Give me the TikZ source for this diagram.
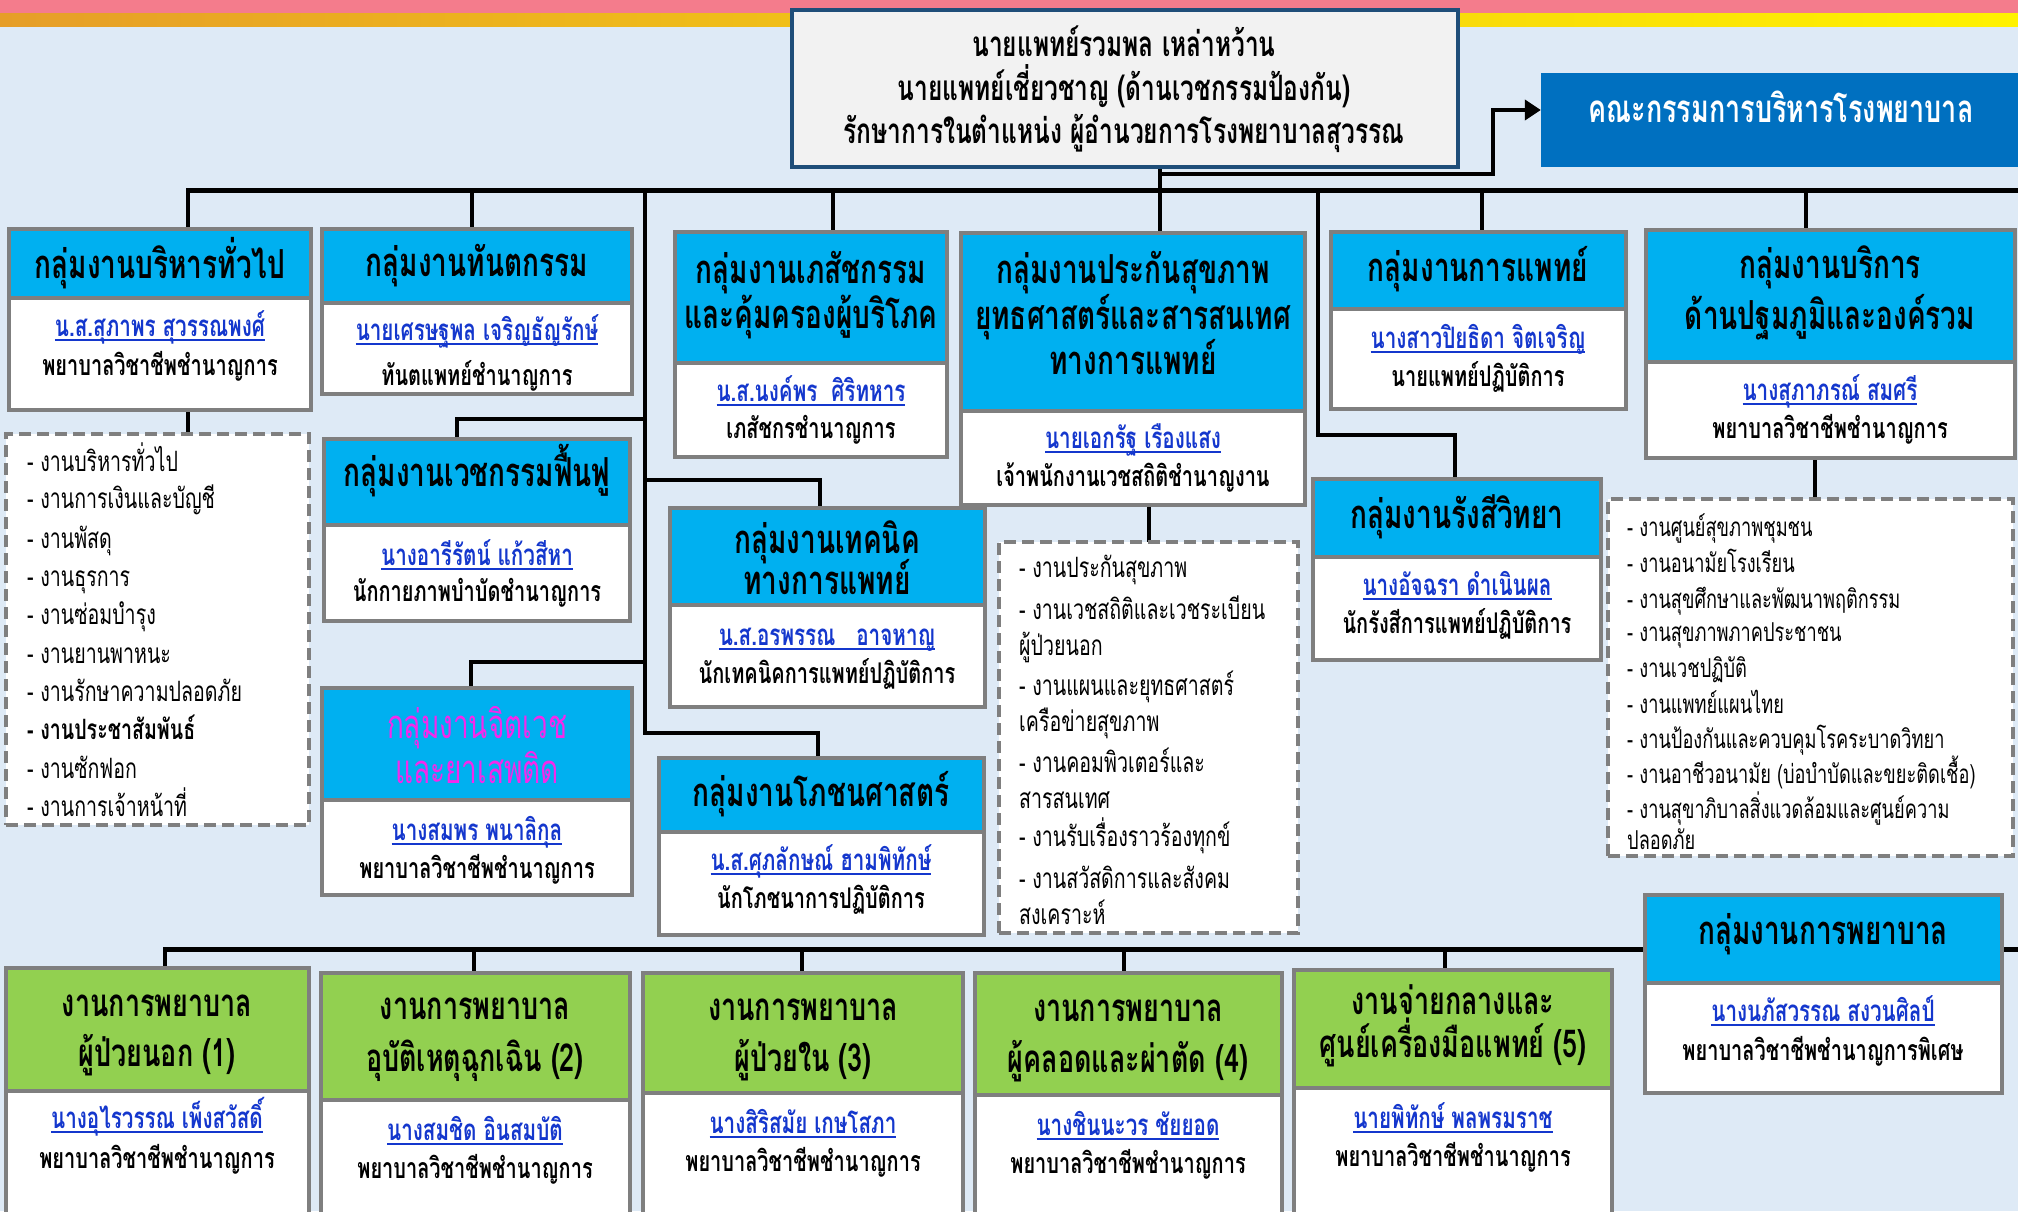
\documentclass[tikz,border=0pt]{standalone}
\usepackage{fontspec}
\usetikzlibrary{arrows.meta,calc}
\newfontfamily\thf[Script=Thai,FakeStretch=0.70]{Loma}
\definecolor{bgc}{RGB}{222,234,246}
\definecolor{pinkc}{RGB}{244,124,140}
\definecolor{goldc}{RGB}{230,158,40}
\definecolor{yelc}{RGB}{255,242,0}
\definecolor{hdrc}{RGB}{0,176,240}
\definecolor{grnc}{RGB}{146,208,80}
\definecolor{gryc}{RGB}{127,127,127}
\definecolor{cmc}{RGB}{0,112,192}
\definecolor{topc}{RGB}{242,242,242}
\definecolor{topb}{RGB}{31,78,121}
\definecolor{nmc}{RGB}{20,55,205}
\definecolor{mgc}{RGB}{245,40,235}
\newsavebox\ulbox
\newcommand\uln[1]{\sbox\ulbox{#1}\rlap{\rule[-5pt]{\wd\ulbox}{2.2pt}}\usebox\ulbox}
\newcommand\gbox[7]{%
  \node[gbx,fill=#7,minimum width={#3-#2},minimum height={#5-#4}] (#1h) at ({(#2+#3)/2},{(#4+#5)/2}) {};
  \node[gbx,fill=white,minimum width={#3-#2},minimum height={#6-#5}] (#1b) at ({(#2+#3)/2},{(#5+#6)/2}) {};
}
\pgfdeclarelayer{bgzero}
\pgfdeclarelayer{lines}
\pgfsetlayers{bgzero,lines,main}
\begin{document}
\begin{tikzpicture}[x=1pt,y=-1pt,
  gbx/.style={draw=gryc,line width=4pt,inner sep=0pt,outer sep=0pt},
  dbox/.style={draw=gryc,fill=white,line width=4pt,dash pattern=on 12pt off 6pt,inner sep=0pt,outer sep=0pt},
  conn/.style={line width=4pt,black,line cap=rect},
  bus/.style={line width=5pt,black,line cap=rect},
  arr/.style={line width=4.5pt,black,-{Triangle[length=16pt,width=20pt]}},
  ttl/.style={font=\thf\bfseries\fontsize{40}{40}\selectfont,anchor=base,inner sep=0pt},
  gtl/.style={font=\thf\bfseries\fontsize{38.5}{38.5}\selectfont,anchor=base,inner sep=0pt},
  nm/.style={font=\thf\bfseries\fontsize{29.5}{29.5}\selectfont,text=nmc,anchor=base,inner sep=0pt},
  ps/.style={font=\thf\bfseries\fontsize{28.5}{28.5}\selectfont,anchor=base,inner sep=0pt},
  lst/.style={font=\thf\fontsize{28}{28}\selectfont,anchor=base west,inner sep=0pt},
  lstc/.style={font=\thf\fontsize{26}{26}\selectfont,anchor=base west,inner sep=0pt},
  tpt/.style={font=\thf\bfseries\fontsize{35}{35}\selectfont,anchor=base,inner sep=0pt},
  cmt/.style={font=\thf\bfseries\fontsize{38.5}{38.5}\selectfont,text=white,anchor=base,inner sep=0pt},
  mgt/.style={font=\thf\fontsize{40}{40}\selectfont,text=mgc,anchor=base,inner sep=0pt}]
\useasboundingbox (0,0) rectangle (2018,1211);
\begin{pgfonlayer}{bgzero}
\fill[bgc] (0,0) rectangle (2018,1211);
\fill[pinkc] (0,0) rectangle (2018,14);
\shade[left color=goldc,right color=yelc] (0,13) rectangle (2018,26);
\end{pgfonlayer}

% top box and committee
\node[draw=topb,fill=topc,line width=3.5pt,minimum width=666,minimum height=157,inner sep=0pt] (top) at (1125,88.5) {};
\node[tpt] (top1) at (1124,56) {นายแพทย์รวมพล เหล่าหว้าน};
\node[tpt] (top2) at (1124,100) {นายแพทย์เชี่ยวชาญ (ด้านเวชกรรมป้องกัน)};
\node[tpt] (top3) at (1124,143) {รักษาการในตำแหน่ง ผู้อำนวยการโรงพยาบาลสุวรรณ};
\node[fill=cmc,minimum width=481,minimum height=94,inner sep=0pt] (cm) at (1781.5,120) {};
\node[cmt] (cmtx) at (1781,122) {คณะกรรมการบริหารโรงพยาบาล};

% upper groups
\gbox{g1}{9}{311}{229}{298}{410}{hdrc}
\node[ttl] (g1t) at (160,278) {กลุ่มงานบริหารทั่วไป};
\node[nm] (g1n) at (160,336) {\uln{น.ส.สุภาพร สุวรรณพงศ์}};
\node[ps] (g1p) at (160,375) {พยาบาลวิชาชีพชำนาญการ};

\gbox{g2}{322}{632}{229}{303}{394}{hdrc}
\node[ttl] (g2t) at (477,276) {กลุ่มงานทันตกรรม};
\node[nm] (g2n) at (477,340) {\uln{นายเศรษฐพล เจริญธัญรักษ์}};
\node[ps] (g2p) at (477,385) {ทันตแพทย์ชำนาญการ};

\gbox{g3}{675}{947}{232}{363}{457}{hdrc}
\node[ttl] (g3t1) at (811,283) {กลุ่มงานเภสัชกรรม};
\node[ttl] (g3t2) at (811,328) {และคุ้มครองผู้บริโภค};
\node[nm] (g3n) at (811,401) {\uln{น.ส.นงค์พร\ \ ศิริทหาร}};
\node[ps] (g3p) at (811,438) {เภสัชกรชำนาญการ};

\gbox{g4}{961}{1305}{233}{411}{505}{hdrc}
\node[ttl] (g4t1) at (1133,283) {กลุ่มงานประกันสุขภาพ};
\node[ttl] (g4t2) at (1133,329) {ยุทธศาสตร์และสารสนเทศ};
\node[ttl] (g4t3) at (1133,374) {ทางการแพทย์};
\node[nm] (g4n) at (1133,448) {\uln{นายเอกรัฐ เรืองแสง}};
\node[ps] (g4p) at (1133,486) {เจ้าพนักงานเวชสถิติชำนาญงาน};

\gbox{g5}{1331}{1626}{232}{309}{409}{hdrc}
\node[ttl] (g5t) at (1478,281) {กลุ่มงานการแพทย์};
\node[nm] (g5n) at (1478,348) {\uln{นางสาวปิยธิดา จิตเจริญ}};
\node[ps] (g5p) at (1478,386) {นายแพทย์ปฏิบัติการ};

\gbox{g6}{1646}{2015}{230}{362}{458}{hdrc}
\node[ttl] (g6t1) at (1830,278) {กลุ่มงานบริการ};
\node[ttl] (g6t2) at (1830,329) {ด้านปฐมภูมิและองค์รวม};
\node[nm] (g6n) at (1830,400) {\uln{นางสุภาภรณ์ สมศรี}};
\node[ps] (g6p) at (1830,438) {พยาบาลวิชาชีพชำนาญการ};

\gbox{g7}{324}{630}{439}{525}{621}{hdrc}
\node[ttl] (g7t) at (477,486) {กลุ่มงานเวชกรรมฟื้นฟู};
\node[nm] (g7n) at (477,565) {\uln{นางอารีรัตน์ แก้วสีหา}};
\node[ps] (g7p) at (477,601) {นักกายภาพบำบัดชำนาญการ};

\gbox{g8}{670}{985}{508}{605}{707}{hdrc}
\node[ttl] (g8t1) at (827,553) {กลุ่มงานเทคนิค};
\node[ttl] (g8t2) at (827,594) {ทางการแพทย์};
\node[nm] (g8n) at (827,645) {\uln{น.ส.อรพรรณ\ \ \ อาจหาญ}};
\node[ps] (g8p) at (827,683) {นักเทคนิคการแพทย์ปฏิบัติการ};

\gbox{g9}{322}{632}{688}{800}{895}{hdrc}
\node[mgt] (g9t1) at (477,738) {กลุ่มงานจิตเวช};
\node[mgt] (g9t2) at (477,783) {และยาเสพติด};
\node[nm] (g9n) at (477,840) {\uln{นางสมพร พนาลิกุล}};
\node[ps] (g9p) at (477,878) {พยาบาลวิชาชีพชำนาญการ};

\gbox{g10}{659}{984}{758}{832}{935}{hdrc}
\node[ttl] (g10t) at (821,806) {กลุ่มงานโภชนศาสตร์};
\node[nm] (g10n) at (821,870) {\uln{น.ส.ศุภลักษณ์ ฮามพิทักษ์}};
\node[ps] (g10p) at (821,908) {นักโภชนาการปฏิบัติการ};

\gbox{g11}{1313}{1601}{479}{557}{660}{hdrc}
\node[ttl] (g11t) at (1457,528) {กลุ่มงานรังสีวิทยา};
\node[nm] (g11n) at (1457,595) {\uln{นางอัจฉรา ดำเนินผล}};
\node[ps] (g11p) at (1457,633) {นักรังสีการแพทย์ปฏิบัติการ};

% dashed lists
\node[dbox,minimum width=303,minimum height=391] (d1) at (157.5,629.5) {};
\foreach \t/\yy [count=\i] in {{- งานบริหารทั่วไป}/471,{- งานการเงินและบัญชี}/508,{- งานพัสดุ}/548,{- งานธุรการ}/586,{- งานซ่อมบำรุง}/624,{- งานยานพาหนะ}/663,{- งานรักษาความปลอดภัย}/701,{\bfseries - งานประชาสัมพันธ์}/739,{- งานซักฟอก}/778,{- งานการเจ้าหน้าที่}/816}
  \node[lst] (la\i) at (27,\yy) {\t};

\node[dbox,minimum width=299,minimum height=391] (d2) at (1148.5,737.5) {};
\foreach \t/\yy [count=\i] in {{- งานประกันสุขภาพ}/577,{- งานเวชสถิติและเวชระเบียน}/619,{ผู้ป่วยนอก}/655,{- งานแผนและยุทธศาสตร์}/695,{เครือข่ายสุขภาพ}/731,{- งานคอมพิวเตอร์และ}/772,{สารสนเทศ}/808,{- งานรับเรื่องราวร้องทุกข์}/846,{- งานสวัสดิการและสังคม}/888,{สงเคราะห์}/924}
  \node[lst] (lb\i) at (1019,\yy) {\t};

\node[dbox,minimum width=405,minimum height=357] (d3) at (1810.5,677.5) {};
\foreach \t/\yy [count=\i] in {{- งานศูนย์สุขภาพชุมชน}/536,{- งานอนามัยโรงเรียน}/572,{- งานสุขศึกษาและพัฒนาพฤติกรรม}/608,{- งานสุขภาพภาคประชาชน}/641,{- งานเวชปฏิบัติ}/677,{- งานแพทย์แผนไทย}/713,{- งานป้องกันและควบคุมโรคระบาดวิทยา}/748,{- งานอาชีวอนามัย (บ่อบำบัดและขยะติดเชื้อ)}/783,{- งานสุขาภิบาลสิ่งแวดล้อมและศูนย์ความ}/818,{ปลอดภัย}/849}
  \node[lstc] (lc\i) at (1627,\yy) {\t};

% nursing group
\gbox{g12}{1645}{2002}{895}{983}{1093}{hdrc}
\node[ttl] (g12t) at (1823,944) {กลุ่มงานการพยาบาล};
\node[nm] (g12n) at (1823,1021) {\uln{นางนภัสวรรณ สงวนศิลป์}};
\node[ps] (g12p) at (1823,1060) {พยาบาลวิชาชีพชำนาญการพิเศษ};

% green boxes
\gbox{n1}{6}{309}{968}{1091}{1216}{grnc}
\node[gtl] (n1t1) at (157,1016) {งานการพยาบาล};
\node[gtl] (n1t2) at (157,1066) {ผู้ป่วยนอก (1)};
\node[nm] (n1n) at (157,1128) {\uln{นางอุไรวรรณ เพ็งสวัสดิ์}};
\node[ps] (n1p) at (157,1168) {พยาบาลวิชาชีพชำนาญการ};

\gbox{n2}{321}{630}{973}{1100}{1216}{grnc}
\node[gtl] (n2t1) at (475,1019) {งานการพยาบาล};
\node[gtl] (n2t2) at (475,1071) {อุบัติเหตุฉุกเฉิน (2)};
\node[nm] (n2n) at (475,1140) {\uln{นางสมชิด อินสมบัติ}};
\node[ps] (n2p) at (475,1178) {พยาบาลวิชาชีพชำนาญการ};

\gbox{n3}{643}{963}{973}{1093}{1216}{grnc}
\node[gtl] (n3t1) at (803,1020) {งานการพยาบาล};
\node[gtl] (n3t2) at (803,1071) {ผู้ป่วยใน (3)};
\node[nm] (n3n) at (803,1133) {\uln{นางสิริสมัย เกษโสภา}};
\node[ps] (n3p) at (803,1171) {พยาบาลวิชาชีพชำนาญการ};

\gbox{n4}{975}{1282}{973}{1095}{1216}{grnc}
\node[gtl] (n4t1) at (1128,1021) {งานการพยาบาล};
\node[gtl] (n4t2) at (1128,1072) {ผู้คลอดและผ่าตัด (4)};
\node[nm] (n4n) at (1128,1135) {\uln{นางชินนะวร ชัยยอด}};
\node[ps] (n4p) at (1128,1173) {พยาบาลวิชาชีพชำนาญการ};

\gbox{n5}{1294}{1612}{970}{1088}{1216}{grnc}
\node[gtl] (n5t1) at (1453,1014) {งานจ่ายกลางและ};
\node[gtl] (n5t2) at (1453,1057) {ศูนย์เครื่องมือแพทย์ (5)};
\node[nm] (n5n) at (1453,1128) {\uln{นายพิทักษ์ พลพรมราช}};
\node[ps] (n5p) at (1453,1166) {พยาบาลวิชาชีพชำนาญการ};

% connectors
\begin{pgfonlayer}{lines}
\coordinate (busL) at (188,190);
\coordinate (busR) at (2020,190);
\draw[bus] (busL) -- (busR);
\draw[conn] ([xshift=28]g1h.north) |- (busL);
\draw[conn] ([xshift=-5]g2h.north) |- (busL);
\draw[conn] ([xshift=22]g3h.north) |- (busL);
\draw[conn] ([xshift=35]top.south) -- ([xshift=27]g4h.north);
\draw[conn] ([xshift=3]g5h.north) |- (busL);
\draw[conn] ([xshift=-24.5]g6h.north) |- (busL);
\coordinate (tj) at (1160,174);
\coordinate (tk) at (1493,174);
\draw[arr] (tj) -- (tk) |- ([yshift=10]cm.west);
\coordinate (vA) at (645,190);
\coordinate (vB) at (645,733);
\draw[conn] (vA) -- (vB);
\coordinate (j7) at (645,419);
\coordinate (j8) at (645,480);
\coordinate (j9) at (645,662);
\draw[conn] ([xshift=-20]g7h.north) |- (j7);
\draw[conn] ([xshift=-7.5]g8h.north) |- (j8);
\draw[conn] ([xshift=-6]g9h.north) |- (j9);
\draw[conn] ([xshift=-3.5]g10h.north) |- (vB);
\coordinate (b11) at (1318,190);
\coordinate (j11) at (1318,435);
\draw[conn] (b11) -- (j11) -| ([xshift=-2]g11h.north);
\draw[conn] ([xshift=28]g1b.south) -- ([xshift=30.5]d1.north);
\draw[conn] ([xshift=16]g4b.south) -- ([xshift=0.5]d2.north);
\draw[conn] ([xshift=-15.5]g6b.south) -- ([xshift=4.5]d3.north);
\coordinate (bbL) at (165,949);
\coordinate (bbR) at (2020,949);
\draw[bus] (bbL) -- (bbR);
\draw[conn] ([xshift=7.5]n1h.north) |- (bbL);
\draw[conn] ([xshift=-1.5]n2h.north) |- (bbL);
\draw[conn] ([xshift=-1]n3h.north) |- (bbL);
\draw[conn] ([xshift=-4.5]n4h.north) |- (bbL);
\draw[conn] ([xshift=-8]n5h.north) |- (bbL);
\end{pgfonlayer}
\end{tikzpicture}
\end{document}
